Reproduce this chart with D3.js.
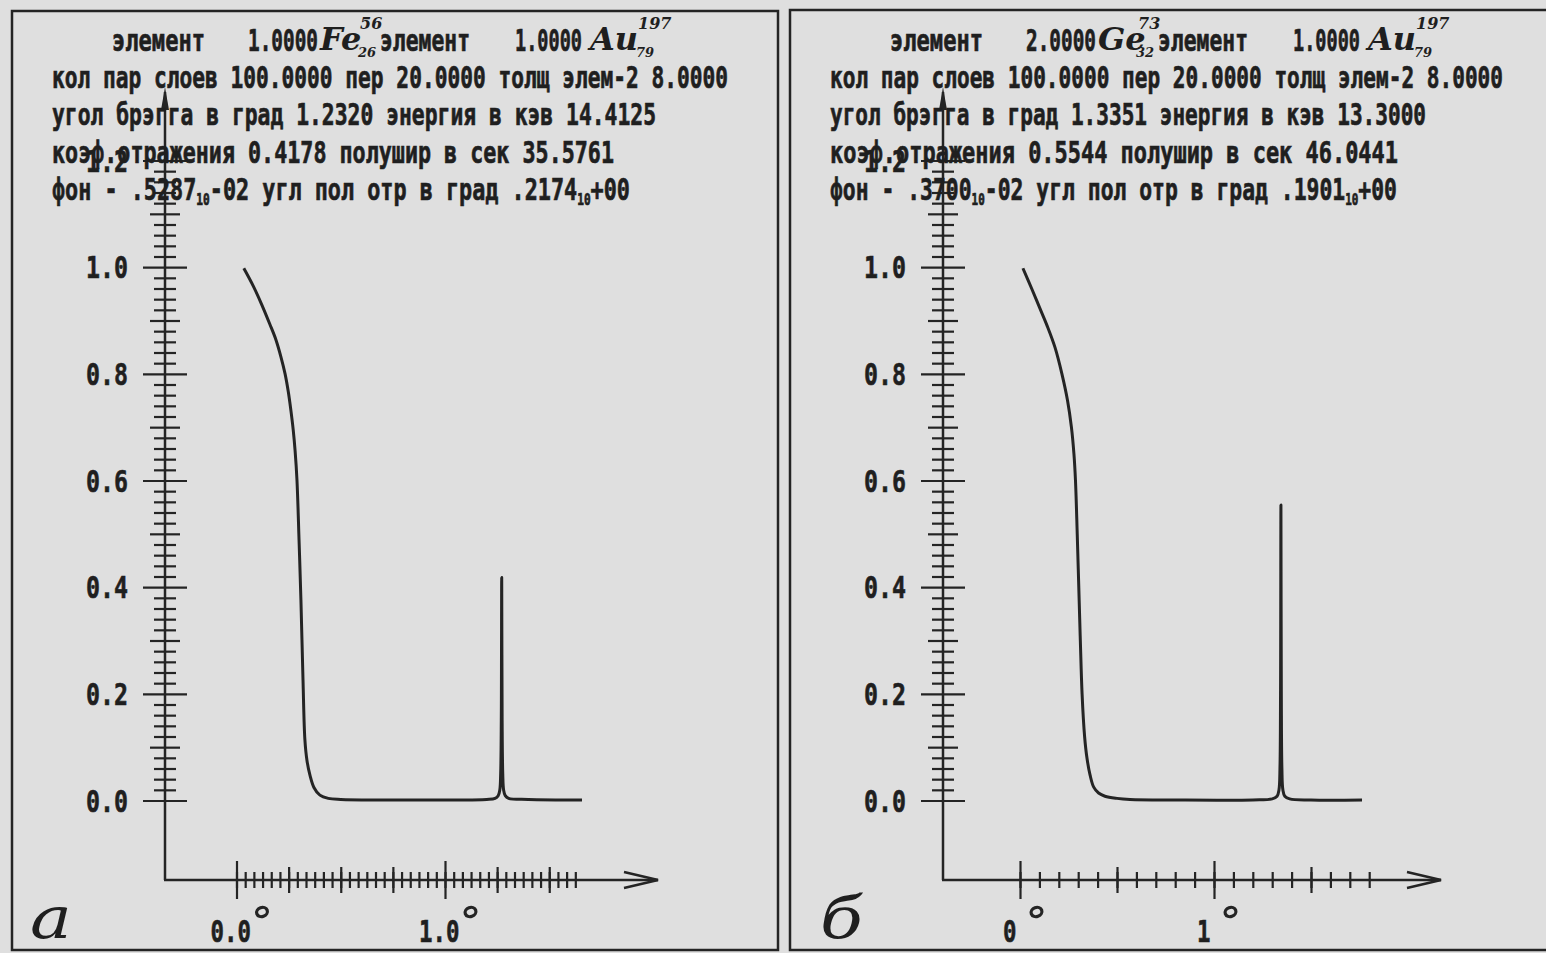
<!DOCTYPE html>
<html>
<head>
<meta charset="utf-8">
<script src="https://cdn.jsdelivr.net/npm/d3@7"></script>
<style>
body { margin: 0; background: #dfdfdf; }
text { fill: #1f1f1f; }
</style>
</head>
<body>
<script>
// reflectivity curves: [angle in degrees, reflectivity]
var curveA = [[0.035,0.998],[0.08,0.965],[0.122,0.929],[0.16,0.893],[0.189,0.864],[0.213,0.832],[0.233,0.8],
  [0.249,0.765],[0.261,0.731],[0.272,0.695],[0.281,0.656],[0.29,0.601],[0.3,0.488],[0.309,0.376],[0.319,0.226],
  [0.328,0.114],[0.338,0.075],[0.352,0.048],[0.372,0.024],[0.4,0.01],[0.44,0.004],[0.5,0.002],[0.7,0.001],
  [1.0,0.001],[1.2,0.002],[1.24,0.004],[1.255,0.009],[1.263,0.02],[1.267,0.05],[1.27,0.15],[1.272,0.418],
  [1.274,0.15],[1.277,0.05],[1.281,0.02],[1.289,0.009],[1.305,0.004],[1.4,0.002],[1.657,0.001]]
var curveB = [[0.015,0.998],[0.06,0.96],[0.1,0.925],[0.14,0.89],[0.18,0.85],[0.216,0.8],[0.245,0.75],
  [0.265,0.7],[0.278,0.65],[0.286,0.6],[0.295,0.5],[0.303,0.4],[0.311,0.3],[0.32,0.2],[0.333,0.12],
  [0.345,0.08],[0.361,0.048],[0.38,0.025],[0.405,0.014],[0.438,0.008],[0.5,0.004],[0.567,0.002],[0.8,0.001],
  [1.2,0.001],[1.3,0.003],[1.325,0.008],[1.335,0.02],[1.34,0.06],[1.343,0.2],[1.345,0.554],[1.347,0.2],
  [1.35,0.06],[1.355,0.02],[1.365,0.008],[1.39,0.003],[1.5,0.001],[1.763,0.001]]

var yMajor = [0, 0.2, 0.4, 0.6, 0.8, 1.0, 1.2]
var yLabels = ["0.0", "0.2", "0.4", "0.6", "0.8", "1.0", "1.2"]

var xMajorA = [0, 1], xLabelsA = ["0.0", "1.0"]
var xMajorB = [0, 1], xLabelsB = ["0", "1"]

var textA = [
  "кол пар слоев 100.0000 пер 20.0000 толщ элем-2 8.0000",
  "угол брэгга в град 1.2320 энергия в кэв 14.4125",
  "коэф.отражения 0.4178 полушир в сек 35.5761",
  [".5287", "-02 угл пол отр в град .2174", "+00"]
]
var textB = [
  "кол пар слоев 100.0000 пер 20.0000 толщ элем-2 8.0000",
  "угол брэгга в град 1.3351 энергия в кэв 13.3000",
  "коэф.отражения 0.5544 полушир в сек 46.0441",
  [".3700", "-02 угл пол отр в град .1901", "+00"]
]
var elemA = [["1.0000", "Fe", "56", "26"], ["1.0000", "Au", "197", "79"]]
var elemB = [["2.0000", "Ge", "73", "32"], ["1.0000", "Au", "197", "79"]]

var ink = "#242424"
var mono = "'DejaVu Sans Mono', monospace"
var script = "'DejaVu Serif', serif"

var svg = d3.select("body").append("svg")
  .attr("width", 1546).attr("height", 953)

function panel(o) {
  var g = svg.append("g").attr("transform", "translate(" + o.dx + ",0)")

  g.append("rect").attr("x", o.frame[0]).attr("y", o.frame[1])
    .attr("width", o.frame[2]).attr("height", o.frame[3])
    .attr("fill", "none").attr("stroke", ink).attr("stroke-width", 2.5)

  var y = d3.scaleLinear().domain([0, 1.2]).range([800.5, 160.5])
  var x = d3.scaleLinear().domain([0, 1]).range(o.xr)
  var ax = 165, ay = 880

  // y axis: three tick sizes, crossing the line
  function yTicks(vals, half) {
    var a = g.append("g").attr("transform", "translate(" + ax + ",0)")
      .call(d3.axisLeft(y).tickValues(vals).tickSize(half).tickFormat(""))
    a.select(".domain").remove()
    a.selectAll("line").attr("x1", -half).attr("x2", half)
      .attr("stroke", ink).attr("stroke-width", 2.2)
  }
  yTicks(d3.range(0, 1.201, 0.02).filter(function(v){ return Math.round(v*100) % 10 != 0 }), 11)
  yTicks([0.1, 0.3, 0.5, 0.7, 0.9, 1.1], 15)
  yTicks(yMajor, 22)
  g.selectAll(".ylab").data(yMajor).enter().append("text")
    .attr("x", ax - 37).attr("y", function(d){ return y(d) + 11 })
    .attr("text-anchor", "end").attr("font-family", mono).attr("font-weight", "bold")
    .attr("font-size", 30).attr("textLength", 42).attr("lengthAdjust", "spacingAndGlyphs")
    .attr("stroke", "#1f1f1f").attr("stroke-width", 0.6)
    .text(function(d, i){ return yLabels[i] })

  g.append("line").attr("x1", ax).attr("x2", ax).attr("y1", ay).attr("y2", 92)
    .attr("stroke", ink).attr("stroke-width", 2.5)
  g.append("path").attr("d", "M" + (ax-4) + ",110 L" + ax + ",87 L" + (ax+4) + ",110 Z").attr("fill", ink)

  // x axis
  function xTicks(vals, half) {
    var a = g.append("g").attr("transform", "translate(0," + ay + ")")
      .call(d3.axisBottom(x).tickValues(vals).tickSize(half).tickFormat(""))
    a.select(".domain").remove()
    a.selectAll("line").attr("y1", -half).attr("y2", half)
      .attr("stroke", ink).attr("stroke-width", 2.2)
  }
  xTicks(o.xMinor, 8)
  xTicks(o.xMid, 13)
  xTicks(o.xMajor, 19)
  g.append("line").attr("x1", ax - 1).attr("x2", o.tip).attr("y1", ay).attr("y2", ay)
    .attr("stroke", ink).attr("stroke-width", 2.5)
  g.append("path").attr("d", "M" + (o.tip-34) + "," + (ay-8) + " L" + o.tip + "," + ay + " L" + (o.tip-34) + "," + (ay+8))
    .attr("fill", "none").attr("stroke", ink).attr("stroke-width", 2.5)

  g.selectAll(".xlab").data(o.xMajor).enter().append("text")
    .attr("x", function(d){ return x(d) - o.labDx }).attr("y", 942)
    .attr("font-family", mono).attr("font-weight", "bold").attr("font-size", 30)
    .attr("stroke", "#1f1f1f").attr("stroke-width", 0.6)
    .attr("textLength", function(d, i){ return o.xLabels[i].length * 13.5 })
    .attr("lengthAdjust", "spacingAndGlyphs").text(function(d, i){ return o.xLabels[i] })
  g.selectAll(".xdeg").data(o.xMajor).enter().append("ellipse")
    .attr("cx", function(d, i){ return x(d) - o.labDx + o.xLabels[i].length * 13.5 + o.degGap })
    .attr("cy", 912).attr("rx", 5.5).attr("ry", 4.5)
    .attr("fill", "none").attr("stroke", ink).attr("stroke-width", 3.2)
    .attr("transform", function(d, i){
      var cx = x(d) - o.labDx + o.xLabels[i].length * 13.5 + o.degGap
      return "rotate(-20," + cx + ",912)" })

  // curve
  var line = d3.line().x(function(d){ return x(d[0]) }).y(function(d){ return y(d[1]) })
    .curve(d3.curveCatmullRom.alpha(0.5))
  g.append("path").datum(o.curve).attr("d", line)
    .attr("fill", "none").attr("stroke", ink).attr("stroke-width", 3).attr("stroke-linejoin", "round")

  // header, printer-like condensed text
  function tx(str, px, py, w) {
    return g.append("text").attr("transform", "translate(" + px + "," + py + ") scale(1,1.36)")
      .attr("font-family", mono).attr("font-weight", "bold").attr("font-size", 21.5)
      .attr("stroke", "#1f1f1f").attr("stroke-width", 0.5)
      .attr("textLength", w).attr("lengthAdjust", "spacingAndGlyphs").text(str)
  }
  var e = o.elem
  tx("элемент", 112, 51, 93)
  tx(e[0][0], 248, 51, 70)
  tx("элемент", 380, 51, 90)
  tx(e[1][0], 515, 51, 67)
  function sym(s, px, w) {
    g.append("text").attr("x", px).attr("y", 50).attr("font-family", script)
      .attr("font-style", "italic").attr("font-weight", "bold").attr("font-size", 32).text(s[1])
    g.append("text").attr("x", px + w + 2).attr("y", 29).attr("font-family", script)
      .attr("font-style", "italic").attr("font-weight", "bold").attr("font-size", 16).text(s[2])
    g.append("text").attr("x", px + w).attr("y", 57).attr("font-family", script)
      .attr("font-style", "italic").attr("font-weight", "bold").attr("font-size", 13).text(s[3])
  }
  sym(e[0], 320, 38)
  sym(e[1], 590, 46)

  var t = o.text
  tx(t[0], 52, 88, o.w[0])
  tx(t[1], 52, 125, o.w[1])
  tx(t[2], 52, 163, o.w[2])
  var l5 = g.append("text").attr("transform", "translate(52,200) scale(1,1.36)").attr("font-family", mono)
    .attr("font-weight", "bold").attr("font-size", 21.5)
    .attr("stroke", "#1f1f1f").attr("stroke-width", 0.5)
    .attr("textLength", o.w[3]).attr("lengthAdjust", "spacingAndGlyphs")
  l5.append("tspan").text("фон - " + t[3][0])
  l5.append("tspan").attr("font-size", 11).attr("dy", 4).text("10")
  l5.append("tspan").attr("dy", -4).text(t[3][1])
  l5.append("tspan").attr("font-size", 11).attr("dy", 4).text("10")
  l5.append("tspan").attr("dy", -4).text(t[3][2])

  g.append("text").attr("transform", "translate(" + o.letX + ",938) scale(1.35,1.1)")
    .attr("font-family", script).attr("font-style", "italic").attr("font-size", 52).text(o.letter)
}

panel({
  dx: 0, frame: [12, 11, 766, 939], xr: [236.5, 445], tip: 658, labDx: 26, degGap: 11,
  xMinor: d3.range(0, 1.66, 1/24), xMid: [0.25, 0.5, 0.75, 1.25, 1.5], xMajor: xMajorA, xLabels: xLabelsA,
  curve: curveA, text: textA, elem: elemA, w: [676, 604, 562, 578], letter: "а", letX: 30
})
panel({
  dx: 778, frame: [12, 10, 770, 940], xr: [242, 436], tip: 663, labDx: 17, degGap: 20,
  xMinor: d3.range(0, 1.81, 0.1), xMid: [0.5, 1.5], xMajor: xMajorB, xLabels: xLabelsB,
  curve: curveB, text: textB, elem: elemB, w: [673, 596, 568, 567], letter: "б", letX: 42
})
</script>
</body>
</html>
